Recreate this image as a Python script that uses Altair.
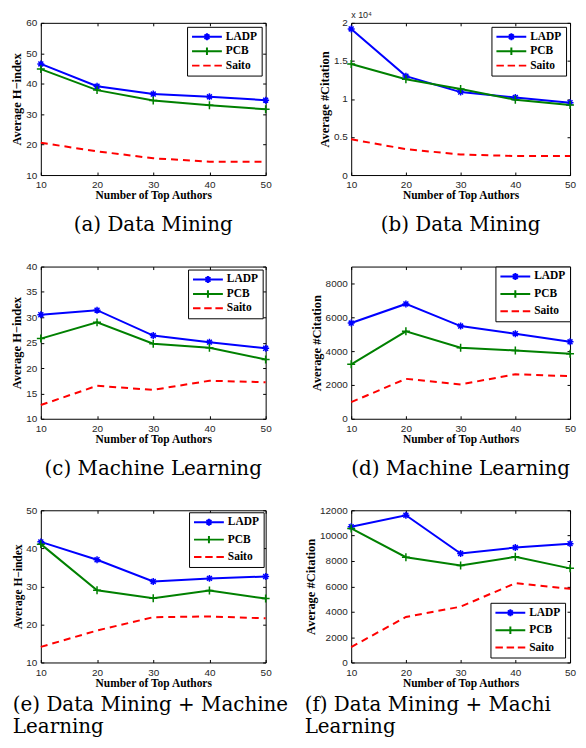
import altair as alt
import pandas as pd

authors = [10, 20, 30, 40, 50]
series = ["LADP", "PCB", "Saito"]
colors = ["#0000ff", "#008000", "#ff0000"]

# (a) Data Mining, H-index
hidx_dm_ladp = [46.5, 39.2, 36.6, 35.7, 34.6]
hidx_dm_pcb = [44.8, 37.9, 34.5, 32.9, 31.6]
hidx_dm_saito = [20.6, 17.8, 15.5, 14.4, 14.4]
# (b) Data Mining, citations
cit_dm_ladp = [19200, 13000, 10900, 10200, 9500]
cit_dm_pcb = [14600, 12600, 11300, 9900, 9200]
cit_dm_saito = [4700, 3400, 2700, 2500, 2500]
# (c) Machine Learning, H-index
hidx_ml_ladp = [30.5, 31.4, 26.4, 25.1, 23.9]
hidx_ml_pcb = [25.8, 29.0, 24.8, 24.0, 21.7]
hidx_ml_saito = [12.7, 16.5, 15.7, 17.5, 17.2]
# (d) Machine Learning, citations
cit_ml_ladp = [5660, 6790, 5480, 5030, 4550]
cit_ml_pcb = [3220, 5170, 4200, 4040, 3840]
cit_ml_saito = [980, 2360, 2030, 2630, 2520]
# (e) DM + ML, H-index
hidx_all_ladp = [41.7, 37.0, 31.3, 32.1, 32.6]
hidx_all_pcb = [41.1, 29.0, 26.9, 28.9, 26.8]
hidx_all_saito = [14.1, 18.4, 21.9, 22.1, 21.6]
# (f) DM + ML, citations
cit_all_ladp = [10700, 11610, 8590, 9060, 9370]
cit_all_pcb = [10570, 8300, 7650, 8330, 7420]
cit_all_saito = [1220, 3590, 4400, 6250, 5810]

STAR = "M-1,0L1,0M0,-1L0,1M-0.7,-0.7L0.7,0.7M-0.7,0.7L0.7,-0.7"
PLUS = "M-1,0L1,0M0,-1L0,1"
LEG_LADP = "M-1,0L1,0M-0.23,0L0.23,0M0,-0.23L0,0.23M-0.16,-0.16L0.16,0.16M-0.16,0.16L0.16,-0.16"
LEG_PCB = "M-1,0L1,0M0,-0.25L0,0.25"
LEG_SAITO = "M-1,0L-0.5,0M-0.25,0L0.25,0M0.5,0L1,0"

SERIF = "DejaVu Serif"


def panel(l, p, s, ytitle, ydomain, yticks, caption, legend_orient, legend_offset, row_pad,
          w, h, ylabel_expr=None, exponent=False, ytitle_size=12.5, multiline=False,
          caption_limit=None):
    df = pd.DataFrame({
        "authors": authors * 3,
        "value": l + p + s,
        "series": [n for n in series for _ in authors],
    })
    x = alt.X("authors:Q", scale=alt.Scale(domain=[10, 50], nice=False, zero=False),
              axis=alt.Axis(values=authors, format="d", title="Number of Top Authors",
                            gridDash=[3, h - 6], labelFlush=False, labelPadding=5,
                            titlePadding=0))
    ykw = dict(values=yticks, title=ytitle, gridDash=[3, w - 6], titleFontSize=ytitle_size,
               format="d", labelFlush=False, labelPadding=4)
    if ylabel_expr:
        ykw["labelExpr"] = ylabel_expr
    y = alt.Y("value:Q", scale=alt.Scale(domain=ydomain, nice=False, zero=False),
              axis=alt.Axis(**ykw))

    layers = []
    dashes = [None, None, [7, 5]]
    for name, col, dash in zip(series, colors, dashes):
        kw = dict(strokeWidth=2, color=col)
        if dash:
            kw["strokeDash"] = dash
        layers.append(alt.Chart(df).transform_filter(alt.datum.series == name)
                      .mark_line(**kw).encode(x=x, y=y))
    layers.append(alt.Chart(df).transform_filter(alt.datum.series == "LADP").mark_point(
        shape=STAR, size=49, filled=False, color=colors[0], strokeWidth=1.5, opacity=1
    ).encode(x=x, y=y))
    layers.append(alt.Chart(df).transform_filter(alt.datum.series == "PCB").mark_point(
        shape=PLUS, size=64, filled=False, color=colors[1], strokeWidth=1.5, opacity=1
    ).encode(x=x, y=y))

    leg = alt.Legend(title=None, orient=legend_orient, offset=legend_offset,
                     strokeColor="black", fillColor="white", padding=4, symbolSize=900,
                     symbolStrokeWidth=2, symbolOpacity=1, labelFont="Liberation Serif",
                     labelFontWeight="bold", labelFontSize=11.5, labelColor="black",
                     rowPadding=row_pad, clipHeight=12, labelOffset=3, cornerRadius=0)
    legend_layer = alt.Chart(pd.DataFrame({"series": series})).transform_filter(
        "false"
    ).mark_point(filled=False, strokeWidth=2).encode(
        x=x, y=y,
        color=alt.Color("series:N", scale=alt.Scale(domain=series, range=colors), legend=leg),
        shape=alt.Shape("series:N",
                        scale=alt.Scale(domain=series, range=[LEG_LADP, LEG_PCB, LEG_SAITO]),
                        legend=leg),
    )
    layers.append(legend_layer)
    if exponent:
        txt = alt.Chart(pd.DataFrame({"t": ["x 10\u2074"]})).mark_text(
            align="left", baseline="bottom", font="Liberation Sans", fontSize=9, color="#262626"
        ).encode(x=alt.value(0), y=alt.value(-3), text="t:N")
        layers.append(txt)
    if multiline:
        tkw = dict(text=caption, orient="bottom", anchor="start", frame="bounds",
                   align="left", font=SERIF, fontSize=20, fontWeight="normal",
                   color="black", offset=6, lineHeight=22)
        if caption_limit:
            tkw["limit"] = caption_limit
        title = alt.TitleParams(**tkw)
    else:
        title = alt.TitleParams(text=caption, orient="bottom", anchor="middle", frame="group",
                                font=SERIF, fontSize=20, fontWeight="normal", color="black",
                                offset=14)
    return alt.layer(*layers).properties(width=w, height=h, title=title)


W1, W2, H = 226, 220, 153

a = panel(hidx_dm_ladp, hidx_dm_pcb, hidx_dm_saito, "Average H\u2212index", [10, 60],
          [10, 20, 30, 40, 50, 60], "(a) Data Mining", "top-right", 4, 2.5, W1, H)
b = panel(cit_dm_ladp, cit_dm_pcb, cit_dm_saito, "Average #Citation", [0, 20000],
          [0, 5000, 10000, 15000, 20000], "(b) Data Mining", "top-right", 4, 2.5, W2, H,
          ylabel_expr="format(datum.value / 10000, '~g')", exponent=True)
c = panel(hidx_ml_ladp, hidx_ml_pcb, hidx_ml_saito, "Average H\u2212index", [10, 40],
          [10, 15, 20, 25, 30, 35, 40], "(c) Machine Learning", "top-right", 3, 2.5, W1, H)
d = panel(cit_ml_ladp, cit_ml_pcb, cit_ml_saito, "Average #Citation", [0, 9000],
          [0, 2000, 4000, 6000, 8000], "(d) Machine Learning", "top-right", 0, 5.5, W2, H)
e = panel(hidx_all_ladp, hidx_all_pcb, hidx_all_saito, "Average H\u2212index", [10, 50],
          [10, 20, 30, 40, 50], ["(e) Data Mining + Machine", "Learning"], "top-right", 2,
          5.5, W1, H, ytitle_size=11.5, multiline=True)
f = panel(cit_all_ladp, cit_all_pcb, cit_all_saito, "Average #Citation", [0, 12000],
          [0, 2000, 4000, 6000, 8000, 10000, 12000], ["(f) Data Mining + Machine", "Learning"],
          "bottom-right", 5, 5.5, W2, H, multiline=True, caption_limit=266)

chart = alt.concat(a, b, c, d, e, f, columns=2, spacing={"row": 92, "column": 86},
                   bounds="flush").resolve_scale(
    color="independent", shape="independent"
).resolve_legend(color="independent", shape="independent").configure(
    padding={"left": 2, "top": 0, "right": 0, "bottom": 0}, background="white",
    style={"group-title": {"ellipsis": " "}},
).configure_view(
    stroke="black", strokeWidth=1
).configure_axis(
    labelFont="Liberation Sans", labelFontSize=10, labelColor="#262626",
    titleFont="Liberation Serif", titleFontWeight="bold", titleFontSize=11.5,
    titleColor="black", domain=False, ticks=False, tickSize=0, grid=True,
    gridColor="black", gridOpacity=1, gridWidth=1, labelPadding=3, titlePadding=2,
)

chart.save("out.html", embed_options={"renderer": "svg", "actions": False})
